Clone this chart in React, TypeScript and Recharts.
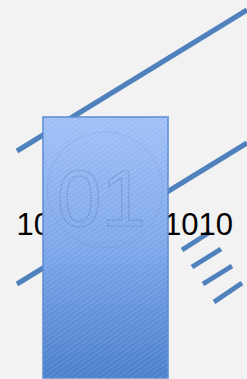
import { ComposedChart, XAxis, YAxis, Scatter, ReferenceArea } from "recharts"

const BLUE = "#4f81bd"

// coordinates in chart units: x to the right, y upward from the bottom edge
const upperLine = [
  { x: 17, y: 228 },
  { x: 247, y: 369 },
]
const lowerLine = [
  { x: 17, y: 95 },
  { x: 247, y: 236 },
]
const hatches = [
  [{ x: 182, y: 129 }, { x: 210, y: 147 }],
  [{ x: 192, y: 112 }, { x: 221, y: 130 }],
  [{ x: 203, y: 95 }, { x: 232, y: 113 }],
  [{ x: 214, y: 77 }, { x: 242, y: 96 }],
]
const words = [
  { x: 16.6, y: 144, label: "1010" },
  { x: 164, y: 144, label: "1010" },
]
const box = { x1: 43, x2: 168, y1: 1, y2: 262 }
const mark = [{ x: 57, y: 153, label: "01" }]

const none = () => <g />

export default function App() {
  return (
    <div style={{ position: "absolute", left: 0, top: 0, width: 247, height: 379, background: "#f2f2f2" }}>
      <ComposedChart width={247} height={379} margin={{ top: 0, right: 0, bottom: 0, left: 0 }}>
        <defs>
          <linearGradient id="boxFill" x1="0" y1="0" x2="0" y2="1">
            <stop offset="0%" stopColor="#a1c0f7" />
            <stop offset="50%" stopColor="#7ea7ea" />
            <stop offset="100%" stopColor="#4a7fcb" />
          </linearGradient>
          <pattern id="stripes" width="4" height="4" patternUnits="userSpaceOnUse" patternTransform="rotate(-35)">
            <line x1="0" y1="0" x2="4" y2="0" stroke="#ffffff" strokeOpacity={0.3} strokeWidth={0.8} />
          </pattern>
        </defs>
        <XAxis type="number" dataKey="x" domain={[0, 247]} hide />
        <YAxis type="number" dataKey="y" domain={[0, 379]} hide />
        <Scatter data={upperLine} line={{ stroke: BLUE, strokeWidth: 5 }} lineType="joint" shape={none} isAnimationActive={false} />
        <Scatter data={lowerLine} line={{ stroke: BLUE, strokeWidth: 5 }} lineType="joint" shape={none} isAnimationActive={false} />
        {hatches.map((h, i) => (
          <Scatter key={i} data={h} line={{ stroke: BLUE, strokeWidth: 5 }} lineType="joint" shape={none} isAnimationActive={false} />
        ))}
        <Scatter
          data={words}
          isAnimationActive={false}
          shape={(p: any) => (
            <text x={p.cx} y={p.cy} fontFamily="Liberation Sans, Arial, sans-serif" fontSize={31} fill="#000">
              {p.payload.label}
            </text>
          )}
        />
        <ReferenceArea
          {...box}
          fill="url(#boxFill)"
          fillOpacity={1}
          stroke="#5b8bd2"
          strokeWidth={1.5}
          ifOverflow="visible"
          zIndex={700}
        />
        <ReferenceArea {...box} fill="url(#stripes)" fillOpacity={1} ifOverflow="visible" zIndex={710} />
        <Scatter
          data={mark}
          isAnimationActive={false}
          zIndex={720}
          shape={(p: any) => (
            <g>
              <circle cx={p.cx + 48} cy={p.cy - 36} r={58} fill="none" stroke="#6a8cc4" strokeOpacity={0.25} strokeWidth={1} />
              <text
                x={p.cx}
                y={p.cy}
                fontFamily="Liberation Sans, Arial, sans-serif"
                fontSize={80}
                fill="none"
                stroke="#2b4a80"
                strokeOpacity={0.45}
                strokeWidth={1.2}
                strokeDasharray="1 1.5"
              >
                {p.payload.label}
              </text>
            </g>
          )}
        />
      </ComposedChart>
    </div>
  )
}
